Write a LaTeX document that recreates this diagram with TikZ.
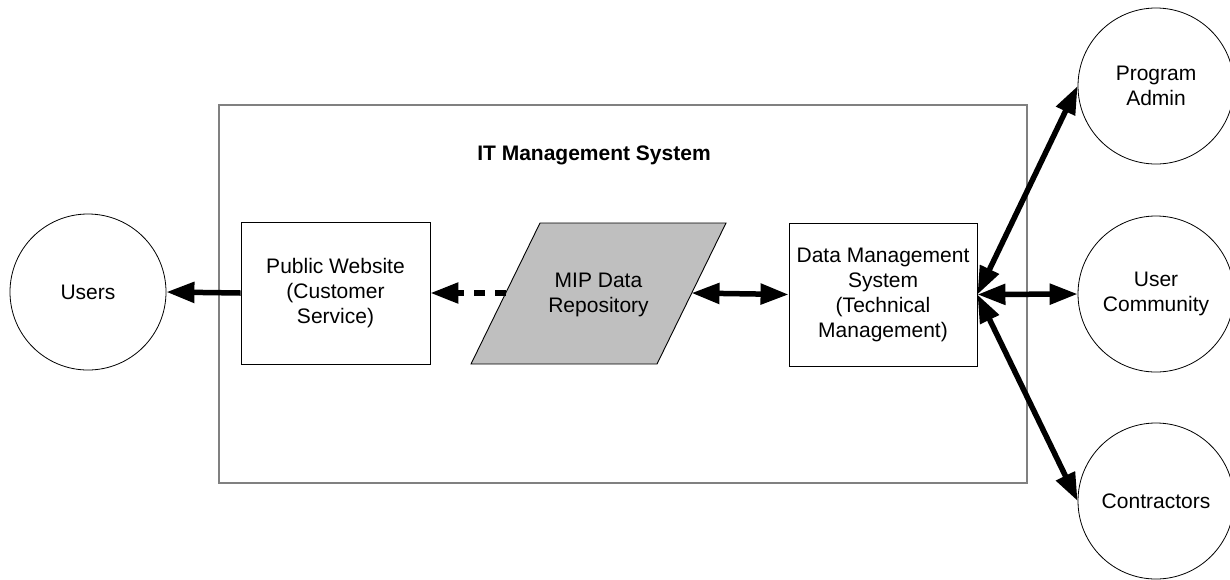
\documentclass[tikz,border=0pt]{standalone}
\usepackage{fontspec}
\setmainfont{Liberation Sans}
\usetikzlibrary{arrows.meta}
\begin{document}
\begin{tikzpicture}[x=1pt,y=-1pt,
  every node/.style={font=\fontsize{21}{25}\selectfont, align=center},
  actor/.style={draw=black, line width=0.8pt, circle, minimum size=156pt, inner sep=0pt},
  procbox/.style={draw=black, line width=0.9pt, rectangle, inner sep=0pt},
  flow/.style={line width=5.5pt, -{Triangle[length=28pt,width=20pt]}},
  bothflow/.style={line width=5.5pt, {Triangle[length=28pt,width=20pt]}-{Triangle[length=28pt,width=20pt]}},
  dashflow/.style={line width=5.5pt, dash pattern=on 11pt off 10pt, -{Triangle[length=28pt,width=20pt]}}
]
\useasboundingbox (0,0) rectangle (1230,579);
% enclosing system box
\node[draw=black!50, line width=1.5pt, rectangle, minimum width=808pt, minimum height=378pt, inner sep=0pt] (sys) at (623,294) {};
\node[font=\bfseries\fontsize{21}{25}\selectfont] (title) at (594,155) {IT Management System};
% inner boxes
\node[procbox, minimum width=189pt, minimum height=142pt] (pw) at (335.5,293) {Public Website\\(Customer\\Service)};
\node[procbox, minimum width=188pt, minimum height=143pt] (dms) at (883,294.5) {Data Management\\System\\(Technical\\Management)};
% parallelogram repository
\fill[black!25] (540,223) -- (726,223) -- (657,364) -- (471,364) -- cycle;
\draw[line width=0.9pt] (540,223) -- (726,223) -- (657,364) -- (471,364) -- cycle;
\node (mip) at (598.5,295) {MIP Data\\Repository};
\coordinate (mipL) at (505.5,293);
\coordinate (mipR) at (691.5,293);
% actors
\node[actor] (users) at (88,292) {Users};
\node[actor] (pa) at (1156,86) {Program\\Admin};
\node[actor] (uc) at (1156,294) {User\\Community};
\node[actor] (con) at (1156,501) {Contractors};
% connectors
\draw[flow] (pw.west) -- (users.east);
\draw[dashflow] (mipL) -- (pw.east);
\draw[bothflow] (mipR) -- (dms.west);
\draw[bothflow] (dms.east) -- (pa.west);
\draw[bothflow] (dms.east) -- (uc.west);
\draw[bothflow] (dms.east) -- (con.west);
\end{tikzpicture}
\end{document}
